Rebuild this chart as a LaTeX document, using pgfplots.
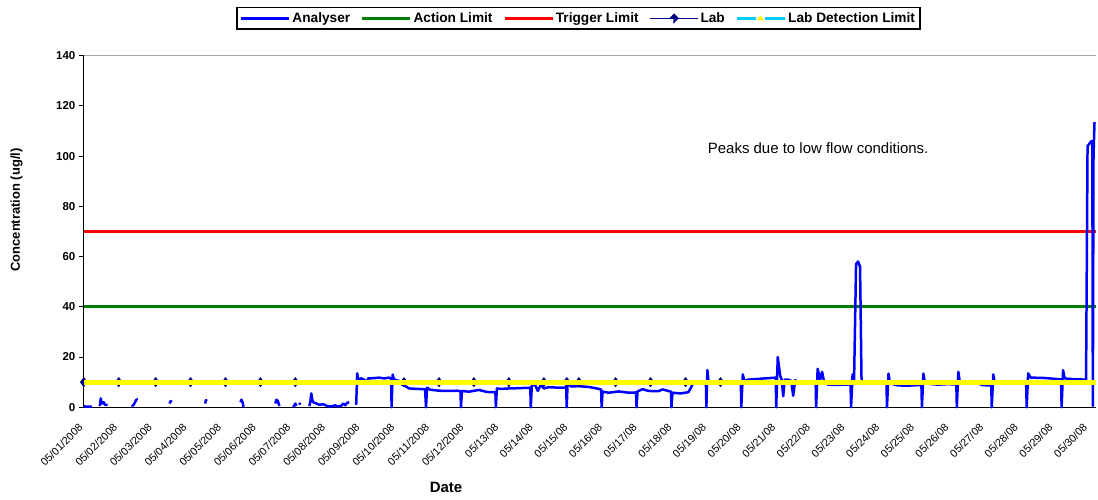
\documentclass[border=0pt]{standalone}
\usepackage{fontspec}
\setmainfont{Liberation Sans}
\usepackage{pgfplots}
\pgfplotsset{compat=1.18}
\usetikzlibrary{calc}
\definecolor{exblue}{RGB}{0,0,255}
\definecolor{exgreen}{RGB}{0,128,0}
\definecolor{exred}{RGB}{255,0,0}
\definecolor{exnavy}{RGB}{0,0,128}
\definecolor{exyellow}{RGB}{255,255,0}
\definecolor{excyan}{RGB}{0,204,255}
\begin{document}
\begin{tikzpicture}
\begin{axis}[
  set layers,
  scale only axis, width=1014pt, height=352.5pt,
  xmin=0, xmax=29.205, ymin=0, ymax=140,
  axis lines=left, axis line style={-, black, line width=1pt},
  clip=false,
  unbounded coords=jump,
  xtick={0,...,29},
  xticklabels={05/01/2008,05/02/2008,05/03/2008,05/04/2008,05/05/2008,05/06/2008,05/07/2008,05/08/2008,05/09/2008,05/10/2008,05/11/2008,05/12/2008,05/13/08,05/14/08,05/15/08,05/16/08,05/17/08,05/18/08,05/19/08,05/20/08,05/21/08,05/22/08,05/23/08,05/24/08,05/25/08,05/26/08,05/27/08,05/28/08,05/29/08,05/30/08},
  x tick label style={xshift=-6pt, yshift=-9pt, rotate=45, anchor=north east, font=\fontsize{10.8}{12}\selectfont, inner sep=1pt},
  major x tick style={draw=none},
  ytick={0,20,40,60,80,100,120,140},
  yticklabels={0,20,40,60,80,100,120,140},
  y tick label style={font=\fontsize{11.5}{13}\selectfont\bfseries},
  major y tick style={black, line width=0.8pt},
  tick align=outside, major tick length=5pt,
  xlabel={Date}, ylabel={Concentration (ug/l)},
  every axis x label/.style={at={(axis description cs:0.358,-0.227)}, anchor=center, font=\fontsize{15}{17}\selectfont\bfseries},
  every axis y label/.style={at={(axis description cs:-0.0664,0.561)}, anchor=center, rotate=90, font=\fontsize{13}{15}\selectfont\bfseries},
  legend style={at={(axis description cs:0.489,1.138)}, anchor=north, draw=black, line width=1.2pt,
    font=\fontsize{13.7}{15}\selectfont\bfseries, legend columns=5, inner ysep=3pt, inner xsep=3pt,
    /tikz/every even column/.append style={column sep=9pt}},
]
\addlegendimage{legend image code/.code={\draw[exblue, line width=2.5pt](0pt,0pt)--(48pt,0pt);}}
\addlegendentry{Analyser}
\addlegendimage{legend image code/.code={\draw[exgreen, line width=2.5pt](0pt,0pt)--(48pt,0pt);}}
\addlegendentry{Action Limit}
\addlegendimage{legend image code/.code={\draw[exred, line width=2.5pt](0pt,0pt)--(48pt,0pt);}}
\addlegendentry{Trigger Limit}
\addlegendimage{legend image code/.code={\draw[exnavy, line width=1pt](0pt,0pt)--(48pt,0pt);
  \fill[exnavy] (24pt,0pt) -- ++(-4pt,0pt) -- ++(4pt,4pt) -- ++(4pt,-4pt) -- ++(-4pt,-4pt) -- cycle;}}
\addlegendentry{Lab}
\addlegendimage{legend image code/.code={\draw[excyan, line width=2.5pt](0pt,0pt)--(19pt,0pt);
  \draw[excyan, line width=2.5pt](28pt,0pt)--(48pt,0pt);
  \fill[exyellow] (21pt,-1.5pt) -- (23.5pt,2pt) -- (26pt,-1.5pt) -- cycle;}}
\addlegendentry{Lab Detection Limit}

% Action and Trigger limits
\addplot[exgreen, line width=2.7pt, forget plot] coordinates {(0,40) (29.205,40)};
\addplot[exred, line width=2.7pt, forget plot] coordinates {(0,70) (29.205,70)};

% Lab
\addplot[exnavy, line width=1pt, mark=diamond*, mark size=4.3pt, forget plot] coordinates {
(0,10) (1.008,10) (2.074,10) (3.082,10) (4.090,10) (5.098,10) (6.106,10) (9.245,10) (10.253,10) (11.260,10) (12.270,10) (13.280,10) (13.940,10) (14.290,10) (15.350,10) (16.360,10) (17.370,10) (18.380,10)
};

% Analyser
\addplot[exblue, line width=2.5pt, forget plot, line join=round] coordinates {
(0,0.5) (0.058,0.2) (0.115,0.3) (0.173,0.3) (0.230,0.2)
(0.3,nan)
(0.461,0.5) (0.490,3.5) (0.518,1.5) (0.576,2) (0.605,1) (0.691,1)
(1.0,nan)
(1.382,0.3) (1.440,1) (1.498,2.5) (1.526,3.2) (1.555,3)
(2.0,nan)
(2.477,1.5) (2.506,2.5) (2.535,2)
(3.0,nan)
(3.499,1.5) (3.528,2.8) (3.557,2.5)
(4.0,nan)
(4.522,2) (4.551,3) (4.594,1.5) (4.608,0)
(5.0,nan)
(5.530,1.5) (5.559,3) (5.602,2.5) (5.645,0.5)
(5.9,nan)
(6.048,0) (6.106,1.5) (6.135,0.5)
(6.18,nan)
(6.221,1.8) (6.250,1)
(6.4,nan)
(6.509,0.5) (6.538,2) (6.567,5.5) (6.596,3) (6.624,2) (6.711,1.5) (6.797,1) (6.912,1.2) (7.028,0.5) (7.143,0.3) (7.258,0.8) (7.316,0.3) (7.431,0.6) (7.488,1.5) (7.546,0.8) (7.604,1.8) (7.661,2)
(7.75,nan)
(7.863,1) (7.892,13.5) (7.920,11) (8.007,11.5) (8.093,11) (8.151,9.5) (8.209,11.5) (8.381,11.6) (8.525,11.8) (8.669,11.5) (8.813,11.8) (8.871,11.5)
(8.885,0) (8.914,13) (8.957,11) (9.101,10.5) (9.188,9) (9.274,8.5) (9.389,7.5) (9.620,7.3) (9.850,7.2)
(9.879,0) (9.908,7.8) (9.994,7) (10.253,6.6) (10.541,6.5) (10.772,6.6) (10.873,6.4)
(10.887,0) (10.916,6.5) (11.118,6.2) (11.406,6.9) (11.636,6.1) (11.881,6.0)
(11.895,0) (11.924,7.5) (12.039,7.3) (12.270,7.5) (12.558,7.6) (12.889,7.8)
(12.903,0) (12.932,8.5) (13.018,9.2) (13.105,6.5) (13.191,9) (13.278,7.5) (13.422,8) (13.710,7.8) (13.926,7.9)
(13.940,0) (13.969,10.8) (14.055,8.3) (14.286,8.4) (14.574,8.1) (14.804,7.5) (14.934,7.1)
(14.948,0) (14.977,6.2) (15.150,5.8) (15.438,6.3) (15.726,5.8) (15.942,5.9)
(15.956,0) (15.985,6.3) (16.129,7.2) (16.302,6.5) (16.590,6.4) (16.705,7.1) (16.950,6.2)
(16.964,0) (16.993,5.8) (17.224,5.5) (17.454,6) (17.569,9) (17.656,10) (17.958,10)
(17.972,0) (18.001,14.8) (18.030,10.5) (18.318,10) (18.606,9.8) (18.966,9.8)
(18.980,0) (19.023,13.1) (19.067,10.5) (19.182,11) (19.470,11.3) (19.758,11.6) (19.974,11.8)
(19.988,0) (20.032,20) (20.104,12.5) (20.147,11) (20.190,4.4) (20.233,11) (20.334,11) (20.420,10.5) (20.478,4.6) (20.536,10.8) (20.622,10) (20.910,10) (21.126,9.8)
(21.140,0) (21.184,15.3) (21.256,11) (21.313,14.1) (21.371,10) (21.486,9) (21.774,8.9) (22.134,9.1)
(22.149,0) (22.192,13.1) (22.235,10.5) (22.293,57) (22.350,58) (22.408,56) (22.451,10.4) (22.638,9.8) (22.926,9.7) (23.171,9.8)
(23.185,0) (23.229,13.4) (23.272,9.5) (23.502,8.7) (23.790,8.6) (24.179,8.9)
(24.194,0) (24.237,13.4) (24.280,9.5) (24.654,9) (24.942,9.2) (25.187,9.1)
(25.202,0) (25.245,14.1) (25.288,10) (25.662,10.2) (25.950,8.8) (26.195,8.7)
(26.210,0) (26.253,13.1) (26.296,9.6) (26.671,9.5) (27.203,9.4)
(27.218,0) (27.261,13.5) (27.333,11.8) (27.679,11.7) (27.967,11.4) (28.212,11.1)
(28.226,0) (28.269,14.8) (28.312,11.5) (28.543,11.2) (28.932,11)
(28.975,104) (29.033,105) (29.090,106) (29.113,105) (29.128,0.5) (29.147,100) (29.176,113.5)
};

% Lab detection limit (on top of lab markers)
\addplot[exyellow, line width=5pt, forget plot, on layer=axis foreground] coordinates {(0,10) (29.205,10)};

\draw[gray!70, line width=1pt] (rel axis cs:0,1) -- (rel axis cs:1,1);
\node[anchor=base west, font=\fontsize{15}{18}\selectfont] at (axis cs:17.915,101.2) {Peaks due to low flow conditions.};
\end{axis}
\path ($(current axis.south west)+(-84pt,-92.8pt)$) rectangle ($(current axis.north east)+(0pt,55.7pt)$);
\end{tikzpicture}
\end{document}
